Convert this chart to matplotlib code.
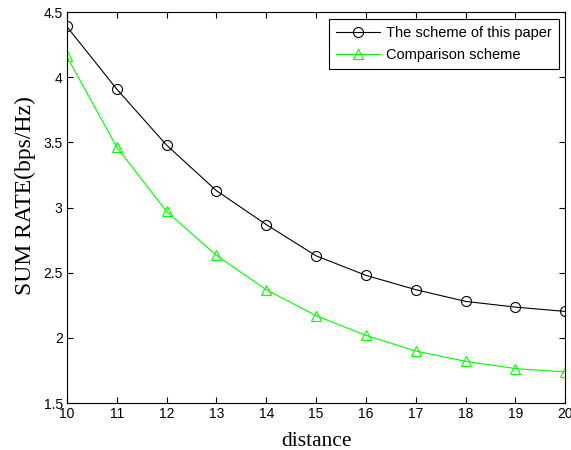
import matplotlib
matplotlib.use("Agg")
import matplotlib.pyplot as plt

distance = [10, 11, 12, 13, 14, 15, 16, 17, 18, 19, 20]
proposed = [4.39, 3.91, 3.48, 3.13, 2.87, 2.63, 2.48, 2.37, 2.28, 2.236, 2.203]
comparison = [4.16, 3.465, 2.97, 2.633, 2.37, 2.17, 2.019, 1.899, 1.82, 1.764, 1.738]
series_names = ["The scheme of this paper", "Comparison scheme"]
xticks = [10, 11, 12, 13, 14, 15, 16, 17, 18, 19, 20]
yticks = [1.5, 2, 2.5, 3, 3.5, 4, 4.5]
ytick_labels = ["1.5", "2", "2.5", "3", "3.5", "4", "4.5"]

plt.rcParams['font.family'] = ['Liberation Sans', 'DejaVu Sans']

fig = plt.figure(figsize=(5.71, 4.5), dpi=100)
ax = fig.add_axes([0.117, 0.1044, 0.873, 0.8686])

ax.plot(distance, proposed, color='black', lw=0.8, marker='o', ms=7.2,
        mfc='none', mec='black', mew=0.8, label=series_names[0])
ax.plot(distance, comparison, color='#00ff00', lw=0.8, marker='^', ms=7.2,
        mfc='none', mec='#00ff00', mew=0.8, label=series_names[1])

ax.set_xlim(10, 20)
ax.set_ylim(1.5, 4.5)
ax.set_xticks(xticks)
ax.set_xticklabels([str(t) for t in xticks])
ax.set_yticks(yticks)
ax.set_yticklabels(ytick_labels)
ax.tick_params(direction='in', length=4, width=0.8, top=True, right=True,
               labelsize=10, pad=3)
for s in ax.spines.values():
    s.set_linewidth(0.8)

ax.set_xlabel("distance", fontsize=15.5, family=['Liberation Serif'], labelpad=8)
ax.set_ylabel("SUM RATE(bps/Hz)", fontsize=17, family=['Liberation Serif'])
ax.yaxis.set_label_coords(-0.062, 0.53)

leg = ax.legend(loc='upper right', fontsize=10.5, frameon=True, fancybox=False,
                edgecolor='black', framealpha=1, borderaxespad=0.45,
                handlelength=3.0, handletextpad=0.4, borderpad=0.5,
                labelspacing=0.55)
leg.get_frame().set_linewidth(0.8)

fig.savefig("out.png", dpi=100)
